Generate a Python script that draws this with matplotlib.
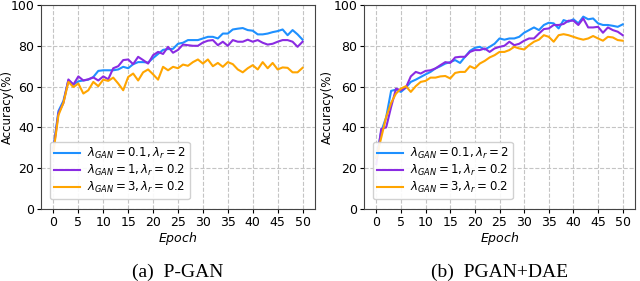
import matplotlib
matplotlib.use("Agg")
import matplotlib.pyplot as plt
import numpy as np

epochs = list(range(51))

pgan_blue = [30, 48, 53, 63, 61, 62.6, 63, 63.4, 64.7, 67.7, 68, 68, 68, 68.4, 69.7, 69, 71, 72, 72, 71.8,
             74, 76, 78, 78.4, 78.5, 81, 81.5, 82.8, 82.8, 82.8, 83.6, 84.4, 84.4, 83.6, 86, 86, 88, 88.4, 88.7, 87.7,
             87.4, 85.6, 85.6, 86, 86.7, 87.2, 88, 85.2, 87.7, 85.6, 83]
pgan_purple = [29, 47, 52, 63.5, 61, 65, 63, 63.6, 64.5, 63, 65, 63.6, 69, 70, 73, 73.3, 71, 74.6, 73, 71.3,
               75.4, 77, 76, 79.5, 76.6, 78, 80.6, 80.3, 80, 80, 81.6, 82.5, 82.8, 80.3, 82, 80, 82.8, 82, 82, 83,
               82, 82.8, 81.5, 80.6, 81, 82, 82.8, 82.8, 82, 79.5, 82]
pgan_orange = [28, 46, 52, 62.3, 59.8, 61.5, 56.6, 58.2, 62.3, 60.2, 63.4, 62.8, 64.4, 61.5, 58.2, 64.7, 66.4, 63, 67, 68.4,
               66, 63.4, 69.7, 68, 69.7, 69, 70.8, 70.2, 72, 73.3, 71.3, 73.3, 70, 71.6, 69.7, 72, 71, 68.4, 67, 69,
               70.5, 68.4, 72, 69, 71.6, 68.4, 69.4, 69.2, 67, 67, 69.2]

dae_blue = [25, 38, 45, 57.9, 58.5, 57.4, 59.5, 62.3, 63.4, 64.7, 66, 67.2, 68.9, 70, 71.3, 72, 73, 71.6, 74.6, 77.5,
            79, 79.5, 78.2, 79.5, 81, 83.6, 83, 83.6, 83.6, 84.4, 86.4, 87.7, 89, 87.7, 90.2, 91.3, 91, 88.5, 92.6, 91.8,
            93, 91, 94.3, 93, 93.4, 91, 90.2, 90.2, 89.8, 89.3, 90.5]
dae_purple = [22, 39.3, 40, 50, 59, 58.2, 59.5, 65, 67.2, 66.4, 67.7, 68, 68.9, 70.5, 72, 71.6, 74.3, 74.6, 74.6, 77,
              77.9, 77.9, 78.7, 77, 78.7, 79.5, 80, 82, 80.3, 81, 82.5, 83.6, 83.6, 86, 88.2, 88.5, 90.2, 90.2, 90.7, 92.3,
              92.3, 90.2, 93.4, 89, 89, 89.3, 86.4, 89, 87.7, 86.9, 85.2]
dae_orange = [25, 35, 45, 52, 56.6, 59, 60.2, 57.4, 60.2, 62.3, 62.8, 64.4, 64.4, 65, 65.2, 64, 66.7, 67.2, 67.2, 70,
              68.9, 71.3, 72.6, 74.3, 75.4, 77, 77, 77.9, 79.5, 78.7, 78.2, 80.3, 82, 83, 85.2, 84.4, 82, 85.2, 85.7, 85.2,
              84.4, 83.6, 83, 83.6, 84.8, 83.6, 82.5, 84.4, 84.1, 82.8, 82.5]

labels = [r"$\lambda_{GAN}=0.1, \lambda_r=2$",
          r"$\lambda_{GAN}=1, \lambda_r=0.2$",
          r"$\lambda_{GAN}=3, \lambda_r=0.2$"]
colors = ["#1E90FF", "#8A2BE2", "#FFA500"]
captions = ["(a)  P-GAN", "(b)  PGAN+DAE"]
xticks = list(range(0, 51, 5))
yticks = list(range(0, 101, 20))

fig = plt.figure(figsize=(6.4, 2.81), dpi=100)
W, H = 640, 281
boxes = [(41, 5, 315, 209), (364, 5, 635, 209)]
label_x = [7, 327]
panels = [(pgan_blue, pgan_purple, pgan_orange), (dae_blue, dae_purple, dae_orange)]

for (x0, y0, x1, y1), lx, series, cap in zip(boxes, label_x, panels, captions):
    ax = fig.add_axes([x0 / W, 1 - y1 / H, (x1 - x0) / W, (y1 - y0) / H])
    for s, c, l in zip(series, colors, labels):
        ax.plot(epochs, s, color=c, lw=1.5, label=l)
    ax.set_ylim(0, 100)
    ax.set_xlim(-2.5, 52.5)
    ax.set_xticks(xticks)
    ax.set_yticks(yticks)
    ax.grid(True, linestyle="--", color="#c4c4c4", lw=0.8)
    ax.tick_params(labelsize=9, length=3, pad=2)
    for sp in ax.spines.values():
        sp.set_color("#444444")
    ax.set_xlabel(r"$Epoch$", fontsize=9, labelpad=1)
    ax.set_ylabel("Accuracy(%)", fontsize=8.5, va="center")
    ax.yaxis.set_label_coords((lx - x0) / (x1 - x0), 0.5)
    leg = ax.legend(loc="lower left", fontsize=8.5, handlelength=2.2, labelspacing=0.15,
                    borderpad=0.35, handletextpad=0.6, framealpha=0.9,
                    bbox_to_anchor=(0.01, 0.02))
    cx = (x0 + x1) / 2 / W
    fig.text(cx, 1 - 272 / H, cap, ha="center", va="center",
             family="Liberation Serif", fontsize=14)

fig.savefig("out.png", dpi=100)
